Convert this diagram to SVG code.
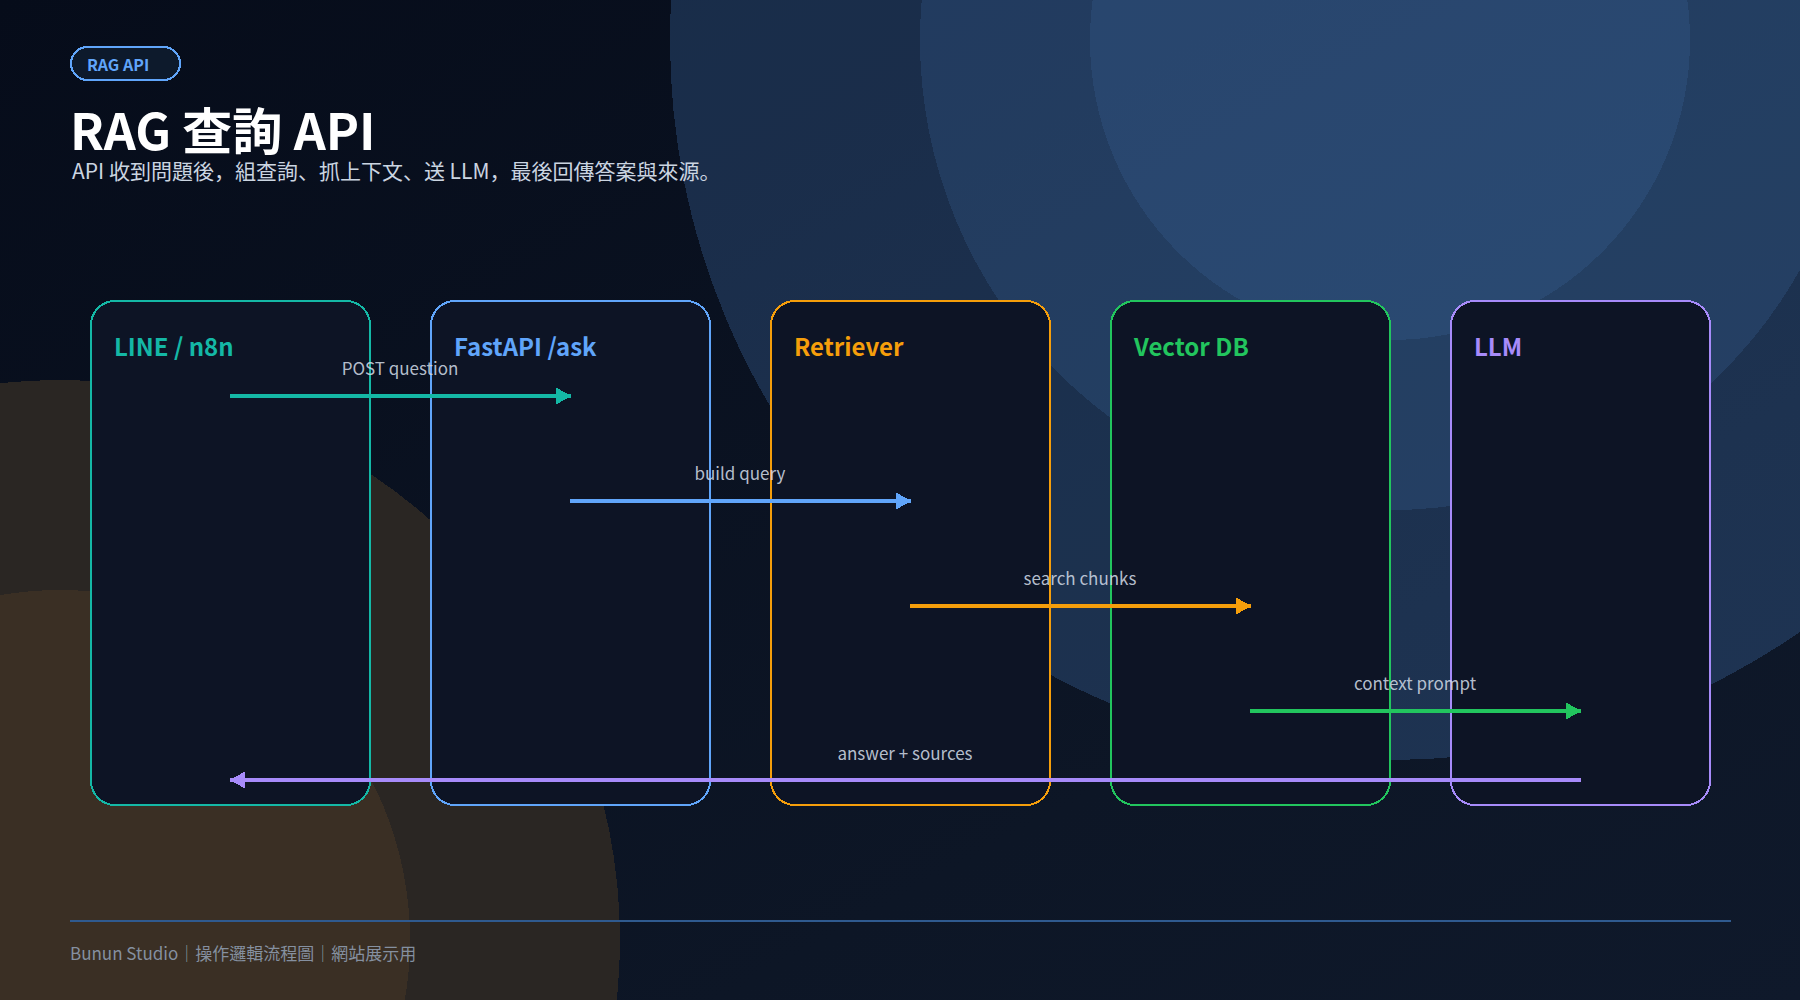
<svg xmlns="http://www.w3.org/2000/svg" width="1800" height="1000" viewBox="0 0 1800 1000">
<defs>
<linearGradient id="bg" x1="0" y1="0" x2="1" y2="1"><stop offset="0" stop-color="#060c1a"/><stop offset="0.7" stop-color="#0d1626"/><stop offset="1" stop-color="#0f192b"/></linearGradient>
<pattern id="grid" width="90" height="90" patternUnits="userSpaceOnUse"><path d="M90 0V90M0 90H90" fill="none" stroke="#94a3b8" stroke-opacity="0.08" stroke-width="1"/></pattern>
<marker id="aTeal" markerUnits="userSpaceOnUse" markerWidth="15" markerHeight="17" refX="15" refY="8.5" orient="auto"><path d="M0 0L15 8.5L0 17z" fill="#14b8a6"/></marker>
<marker id="aBlue" markerUnits="userSpaceOnUse" markerWidth="15" markerHeight="17" refX="15" refY="8.5" orient="auto"><path d="M0 0L15 8.5L0 17z" fill="#60a5fa"/></marker>
<marker id="aOrange" markerUnits="userSpaceOnUse" markerWidth="15" markerHeight="17" refX="15" refY="8.5" orient="auto"><path d="M0 0L15 8.5L0 17z" fill="#f59e0b"/></marker>
<marker id="aGreen" markerUnits="userSpaceOnUse" markerWidth="15" markerHeight="17" refX="15" refY="8.5" orient="auto"><path d="M0 0L15 8.5L0 17z" fill="#22c55e"/></marker>
<marker id="aPurple" markerUnits="userSpaceOnUse" markerWidth="15" markerHeight="17" refX="15" refY="8.5" orient="auto"><path d="M0 0L15 8.5L0 17z" fill="#a78bfa"/></marker>
</defs>
<style>
text{font-family:"Noto Sans CJK JP","Noto Sans",sans-serif}
rect,circle,path{shape-rendering:crispEdges}
.node{fill:#0d1425;stroke-width:2}
.ntitle{font-size:24px;font-weight:700}
.lab{font-size:17px;fill:#cbd5e1;fill-opacity:0.9;text-anchor:middle}
.conn{stroke-width:4;fill:none}
</style>
<rect width="1800" height="1000" fill="url(#bg)"/>
<circle cx="1390" cy="40" r="720" fill="#60a5fa" fill-opacity="0.2"/>
<circle cx="1390" cy="40" r="470" fill="#60a5fa" fill-opacity="0.12"/>
<circle cx="1390" cy="40" r="300" fill="#60a5fa" fill-opacity="0.1"/>
<circle cx="60" cy="940" r="560" fill="#2a2623"/>
<circle cx="60" cy="940" r="350" fill="#3a2f24"/>
<rect width="1800" height="1000" fill="url(#grid)"/>
<g id="header">
<rect x="71" y="47" width="109" height="33" rx="16.5" fill="#0d1a2c" stroke="#60a5fa" stroke-width="2"/>
<text x="87" y="71" font-size="16" font-weight="700" fill="#60a5fa">RAG API</text>
<text x="70" y="150" font-size="50" font-weight="700" fill="#ffffff">RAG 查詢 API</text>
<text x="72" y="179" font-size="21" fill="#cbd5e1">API 收到問題後，組查詢、抓上下文、送 LLM，最後回傳答案與來源。</text>
</g>
<g id="node-line"><rect class="node" x="91" y="301" width="279" height="504" rx="24" stroke="#14b8a6"/><text class="ntitle" x="114" y="356" fill="#14b8a6">LINE / n8n</text></g>
<g id="node-fastapi"><rect class="node" x="431" y="301" width="279" height="504" rx="24" stroke="#60a5fa"/><text class="ntitle" x="454" y="356" fill="#60a5fa">FastAPI /ask</text></g>
<g id="node-retriever"><rect class="node" x="771" y="301" width="279" height="504" rx="24" stroke="#f59e0b"/><text class="ntitle" x="794" y="356" fill="#f59e0b">Retriever</text></g>
<g id="node-vectordb"><rect class="node" x="1111" y="301" width="279" height="504" rx="24" stroke="#22c55e"/><text class="ntitle" x="1134" y="356" fill="#22c55e">Vector DB</text></g>
<g id="node-llm"><rect class="node" x="1451" y="301" width="259" height="504" rx="24" stroke="#a78bfa"/><text class="ntitle" x="1474" y="356" fill="#a78bfa">LLM</text></g>
<g id="connectors">
<text class="lab" x="400" y="375">POST question</text>
<path class="conn" d="M230 396H571" stroke="#14b8a6" marker-end="url(#aTeal)"/>
<text class="lab" x="740" y="480">build query</text>
<path class="conn" d="M570 501H911" stroke="#60a5fa" marker-end="url(#aBlue)"/>
<text class="lab" x="1080" y="585">search chunks</text>
<path class="conn" d="M910 606H1251" stroke="#f59e0b" marker-end="url(#aOrange)"/>
<text class="lab" x="1415" y="690">context prompt</text>
<path class="conn" d="M1250 711H1581" stroke="#22c55e" marker-end="url(#aGreen)"/>
<text class="lab" x="905" y="760">answer + sources</text>
<path class="conn" d="M1581 780H230" stroke="#a78bfa" marker-end="url(#aPurple)"/>
</g>
<g id="footer">
<rect x="70" y="920" width="1661" height="2" fill="#2f5a8f"/>
<text x="70" y="960" font-size="17" fill="#94a3b8" fill-opacity="0.85">Bunun Studio｜操作邏輯流程圖｜網站展示用</text>
</g>
</svg>
